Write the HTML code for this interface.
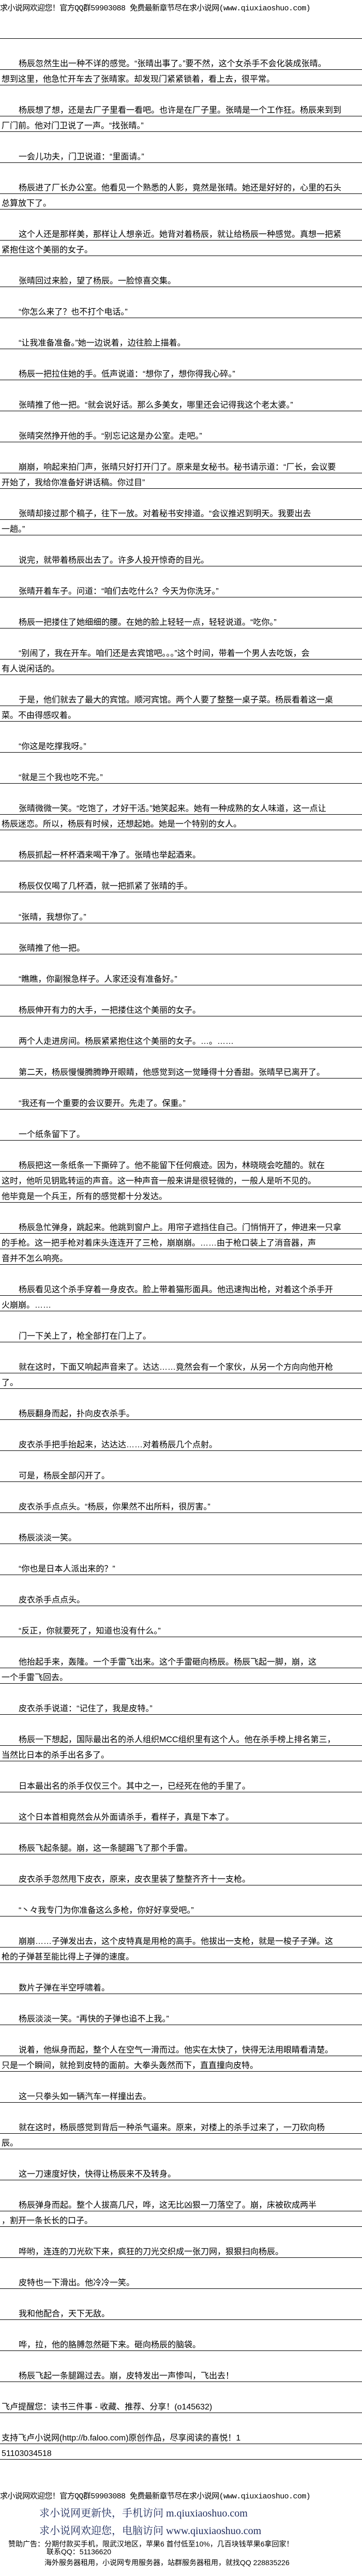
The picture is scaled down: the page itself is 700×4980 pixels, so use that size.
<!DOCTYPE html>
<html>
<head>
<meta charset="utf-8">
<style>
html,body{margin:0;padding:0;background:#fff;}
body{width:700px;height:4980px;position:relative;overflow:hidden;color:#000;
font-family:"Liberation Sans","Noto Sans CJK SC",sans-serif;}
.hdr{position:absolute;left:0;font-size:15px;line-height:20px;white-space:nowrap;
font-family:"Liberation Mono","Noto Sans CJK SC",monospace;letter-spacing:-0.6px;}
.rule{position:absolute;left:0;top:74px;width:700px;height:1px;background:#000;}
#body{position:absolute;left:0;top:105px;width:700px;}
#body p{margin:0 0 30px 0;padding-left:3px;font-size:16px;line-height:30px;white-space:nowrap;
text-indent:33px;
background:repeating-linear-gradient(to bottom,transparent 0,transparent 29px,#000 29px,#000 30px);}
#body p.ni{text-indent:0;}
#body p span{position:relative;top:4px;}
.big{position:absolute;left:76px;font-size:20px;line-height:26px;white-space:nowrap;color:#1d2b5c;
font-family:"Liberation Serif","Noto Serif CJK SC",serif;}
.ad{position:absolute;font-size:14px;line-height:18px;white-space:nowrap;
font-family:"Liberation Sans","Noto Sans CJK SC",sans-serif;}
</style>
</head>
<body>
<div class="hdr" style="top:7px;">求小说网欢迎您！官方QQ群59903088 免费最新章节尽在求小说网(www.qiuxiaoshuo.com)</div>
<div class="rule"></div>

<div id="body">
<p><span>杨辰忽然生出一种不详的感觉。“张晴出事了。”要不然，这个女杀手不会化装成张晴。<br>想到这里，他急忙开车去了张晴家。却发现门紧紧锁着，看上去，很平常。</span></p>
<p><span>杨辰想了想，还是去厂子里看一看吧。也许是在厂子里。张晴是一个工作狂。杨辰来到到<br>厂门前。他对门卫说了一声。“找张晴。”</span></p>
<p><span>一会儿功夫，门卫说道：“里面请。”</span></p>
<p><span>杨辰进了厂长办公室。他看见一个熟悉的人影，竟然是张晴。她还是好好的，心里的石头<br>总算放下了。</span></p>
<p><span>这个人还是那样美，那样让人想亲近。她背对着杨辰，就让给杨辰一种感觉。真想一把紧<br>紧抱住这个美丽的女子。</span></p>
<p><span>张晴回过来脸，望了杨辰。一脸惊喜交集。</span></p>
<p><span>“你怎么来了？也不打个电话。”</span></p>
<p><span>“让我准备准备。”她一边说着，边往脸上描着。</span></p>
<p><span>杨辰一把拉住她的手。低声说道：“想你了，想你得我心碎。”</span></p>
<p><span>张晴推了他一把。“就会说好话。那么多美女，哪里还会记得我这个老太婆。”</span></p>
<p><span>张晴突然挣开他的手。“别忘记这是办公室。走吧。”</span></p>
<p><span>崩崩，响起来拍门声，张晴只好打开门了。原来是女秘书。秘书请示道：“厂长，会议要<br>开始了，我给你准备好讲话稿。你过目”</span></p>
<p><span>张晴却接过那个稿子，往下一放。对着秘书安排道。“会议推迟到明天。我要出去<br>一趟。”</span></p>
<p><span>说完，就带着杨辰出去了。许多人投开惊奇的目光。</span></p>
<p><span>张晴开着车子。问道：“咱们去吃什么？今天为你洗牙。”</span></p>
<p><span>杨辰一把搂住了她细细的腰。在她的脸上轻轻一点，轻轻说道。“吃你。”</span></p>
<p><span>“别闹了，我在开车。咱们还是去宾馆吧。。。”这个时间，带着一个男人去吃饭，会<br>有人说闲话的。</span></p>
<p><span>于是，他们就去了最大的宾馆。顺河宾馆。两个人要了整整一桌子菜。杨辰看着这一桌<br>菜。不由得感叹着。</span></p>
<p><span>“你这是吃撑我呀。”</span></p>
<p><span>“就是三个我也吃不完。”</span></p>
<p><span>张晴微微一笑。“吃饱了，才好干活。”她笑起来。她有一种成熟的女人味道，这一点让<br>杨辰迷恋。所以，杨辰有时候，还想起她。她是一个特别的女人。</span></p>
<p><span>杨辰抓起一杯杯酒来喝干净了。张晴也举起酒来。</span></p>
<p><span>杨辰仅仅喝了几杯酒，就一把抓紧了张晴的手。</span></p>
<p><span>“张晴，我想你了。”</span></p>
<p><span>张晴推了他一把。</span></p>
<p><span>“瞧瞧，你副猴急样子。人家还没有准备好。”</span></p>
<p><span>杨辰伸开有力的大手，一把搂住这个美丽的女子。</span></p>
<p><span>两个人走进房间。杨辰紧紧抱住这个美丽的女子。…。……</span></p>
<p><span>第二天，杨辰慢慢腾腾睁开眼睛，他感觉到这一觉睡得十分香甜。张晴早已离开了。</span></p>
<p><span>“我还有一个重要的会议要开。先走了。保重。”</span></p>
<p><span>一个纸条留下了。</span></p>
<p><span>杨辰把这一条纸条一下撕碎了。他不能留下任何痕迹。因为，林晓晓会吃醋的。就在<br>这时，他听见钥匙转运的声音。这一种声音一般来讲是很轻微的，一般人是听不见的。<br>他毕竟是一个兵王，所有的感觉都十分发达。</span></p>
<p><span>杨辰急忙弹身，跳起来。他跳到窗户上。用帘子遮挡住自己。门悄悄开了，伸进来一只拿<br>的手枪。这一把手枪对着床头连连开了三枪，崩崩崩。……由于枪口装上了消音器，声<br>音并不怎么响亮。</span></p>
<p><span>杨辰看见这个杀手穿着一身皮衣。脸上带着猫形面具。他迅速掏出枪，对着这个杀手开<br>火崩崩。……</span></p>
<p><span>门一下关上了，枪全部打在门上了。</span></p>
<p><span>就在这时，下面又响起声音来了。达达……竟然会有一个家伙，从另一个方向向他开枪<br>了。</span></p>
<p><span>杨辰翻身而起，扑向皮衣杀手。</span></p>
<p><span>皮衣杀手把手抬起来，达达达……对着杨辰几个点射。</span></p>
<p><span>可是，杨辰全部闪开了。</span></p>
<p><span>皮衣杀手点点头。“杨辰，你果然不出所料，很厉害。”</span></p>
<p><span>杨辰淡淡一笑。</span></p>
<p><span>“你也是日本人派出来的？”</span></p>
<p><span>皮衣杀手点点头。</span></p>
<p><span>“反正，你就要死了，知道也没有什么。”</span></p>
<p><span>他抬起手来，轰隆。一个手雷飞出来。这个手雷砸向杨辰。杨辰飞起一脚，崩，这<br>一个手雷飞回去。</span></p>
<p><span>皮衣杀手说道：“记住了，我是皮特。”</span></p>
<p><span>杨辰一下想起，国际最出名的杀人组织MCC组织里有这个人。他在杀手榜上排名第三，<br>当然比日本的杀手出名多了。</span></p>
<p><span>日本最出名的杀手仅仅三个。其中之一，已经死在他的手里了。</span></p>
<p><span>这个日本首相竟然会从外面请杀手，看样子，真是下本了。</span></p>
<p><span>杨辰飞起条腿。崩，这一条腿踢飞了那个手雷。</span></p>
<p><span>皮衣杀手忽然甩下皮衣，原来，皮衣里装了整整齐齐十一支枪。</span></p>
<p><span>“丶々我专门为你准备这么多枪，你好好享受吧。”</span></p>
<p><span>崩崩……子弹发出去，这个皮特真是用枪的高手。他拔出一支枪，就是一梭子子弹。这<br>枪的子弹甚至能比得上子弹的速度。</span></p>
<p><span>数片子弹在半空呼啸着。</span></p>
<p><span>杨辰淡淡一笑。“再快的子弹也追不上我。”</span></p>
<p><span>说着，他纵身而起，整个人在空气一滑而过。他实在太快了，快得无法用眼睛看清楚。<br>只是一个瞬间，就抢到皮特的面前。大拳头轰然而下，直直撞向皮特。</span></p>
<p><span>这一只拳头如一辆汽车一样撞出去。</span></p>
<p><span>就在这时，杨辰感觉到背后一种杀气逼来。原来，对楼上的杀手过来了，一刀砍向杨<br>辰。</span></p>
<p><span>这一刀速度好快，快得让杨辰来不及转身。</span></p>
<p><span>杨辰弹身而起。整个人拔高几尺，哗，这无比凶狠一刀落空了。崩，床被砍成两半<br>，割开一条长长的口子。</span></p>
<p><span>哗哟，连连的刀光砍下来，疯狂的刀光交织成一张刀网，狠狠扫向杨辰。</span></p>
<p><span>皮特也一下滑出。他冷冷一笑。</span></p>
<p><span>我和他配合，天下无敌。</span></p>
<p><span>哗，拉，他的胳膊忽然砸下来。砸向杨辰的脑袋。</span></p>
<p><span>杨辰飞起一条腿踢过去。崩，皮特发出一声惨叫，飞出去！</span></p>
<p class="ni"><span>飞卢提醒您：读书三件事 - 收藏、推荐、分享！(o145632)</span></p>
<p class="ni"><span>支持飞卢小说网(http://b.faloo.com)原创作品，尽享阅读的喜悦！1<br>51103034518</span></p>
</div>

<div class="hdr" style="top:4817px;">求小说网欢迎您！官方QQ群59903088 免费最新章节尽在求小说网(www.qiuxiaoshuo.com)</div>
<div class="big" style="top:4846px;">求小说网更新快，手机访问 m.qiuxiaoshuo.com</div>
<div class="big" style="top:4880px;">求小说网欢迎您，电脑访问 www.qiuxiaoshuo.com</div>
<div class="ad" style="left:16px;top:4909px;">赞助广告：分期付款买手机，限武汉地区，苹果6 首付低至10%，几百块钱苹果6拿回家！</div>
<div class="ad" style="left:90px;top:4924px;">联系QQ：51136620</div>
<div class="ad" style="left:86px;top:4945px;">海外服务器租用，小说网专用服务器，站群服务器租用，就找QQ 228835226</div>
</body>
</html>
